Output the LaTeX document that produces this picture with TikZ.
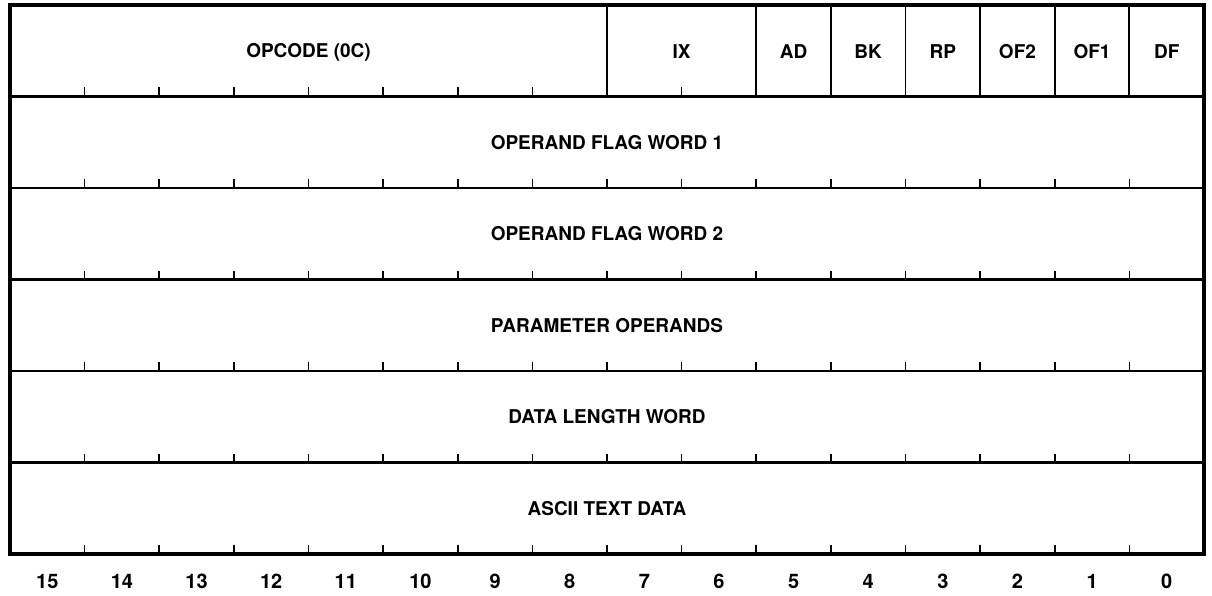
\documentclass[tikz,border=0pt]{standalone}
\usepackage{fontspec}
\setmainfont{TeX Gyre Heros}
\begin{document}
\begin{tikzpicture}[x=1pt,y=-1pt,
  frame/.style={line width=3.5pt},
  rowline/.style={line width=2.2pt},
  divider/.style={line width=1.8pt},
  tickmark/.style={line width=1.6pt},
  field/.style={font=\bfseries\fontsize{19}{21}\selectfont, inner sep=0pt},
  bitnum/.style={font=\bfseries\fontsize{20}{22}\selectfont, inner sep=0pt}]
\useasboundingbox (0,0) rectangle (1212,596);
\pgfmathsetmacro{\xl}{10}
\pgfmathsetmacro{\bw}{74.625}
\pgfmathsetmacro{\rh}{91.5}
% row lines
\foreach \r in {1,...,5} {
  \draw[rowline] (\xl,5+\r*\rh) -- (\xl+16*\bw,5+\r*\rh);
}
% outer frame
\draw[frame] (\xl,5) rectangle (\xl+16*\bw,554);
% dividers in first row
\foreach \k in {8,10,11,12,13,14,15} {
  \draw[divider] (\xl+\k*\bw,5) -- (\xl+\k*\bw,5+\rh);
}
% ticks under first row
\foreach \k in {1,...,7,9} {
  \draw[tickmark] (\xl+\k*\bw,5+\rh) -- ++(0,-9);
}
% ticks under other rows
\foreach \r in {2,...,6} {
  \foreach \k in {1,...,15} {
    \draw[tickmark] (\xl+\k*\bw,5+\r*\rh) -- ++(0,-9);
  }
}
% field labels
\node[field] (opcode) at (\xl+4*\bw,52) {OPCODE (0C)};
\node[field] (ix) at (\xl+9*\bw,52) {IX};
\node[field] (ad) at (\xl+10.5*\bw,52) {AD};
\node[field] (bk) at (\xl+11.5*\bw,52) {BK};
\node[field] (rp) at (\xl+12.5*\bw,52) {RP};
\node[field] (of2) at (\xl+13.5*\bw,52) {OF2};
\node[field] (of1) at (\xl+14.5*\bw,52) {OF1};
\node[field] (df) at (\xl+15.5*\bw,52) {DF};
\node[field] (ofw1) at (\xl+8*\bw,5+1.5*\rh) {OPERAND FLAG WORD 1};
\node[field] (ofw2) at (\xl+8*\bw,5+2.5*\rh) {OPERAND FLAG WORD 2};
\node[field] (param) at (\xl+8*\bw,5+3.5*\rh) {PARAMETER OPERANDS};
\node[field] (dlw) at (\xl+8*\bw,5+4.5*\rh) {DATA LENGTH WORD};
\node[field] (ascii) at (\xl+8*\bw,5+5.5*\rh) {ASCII TEXT DATA};
% bit numbers
\foreach \b in {0,...,15} {
  \node[bitnum] (bit\b) at (\xl+15.5*\bw-\b*\bw,581) {\b};
}
\end{tikzpicture}
\end{document}
